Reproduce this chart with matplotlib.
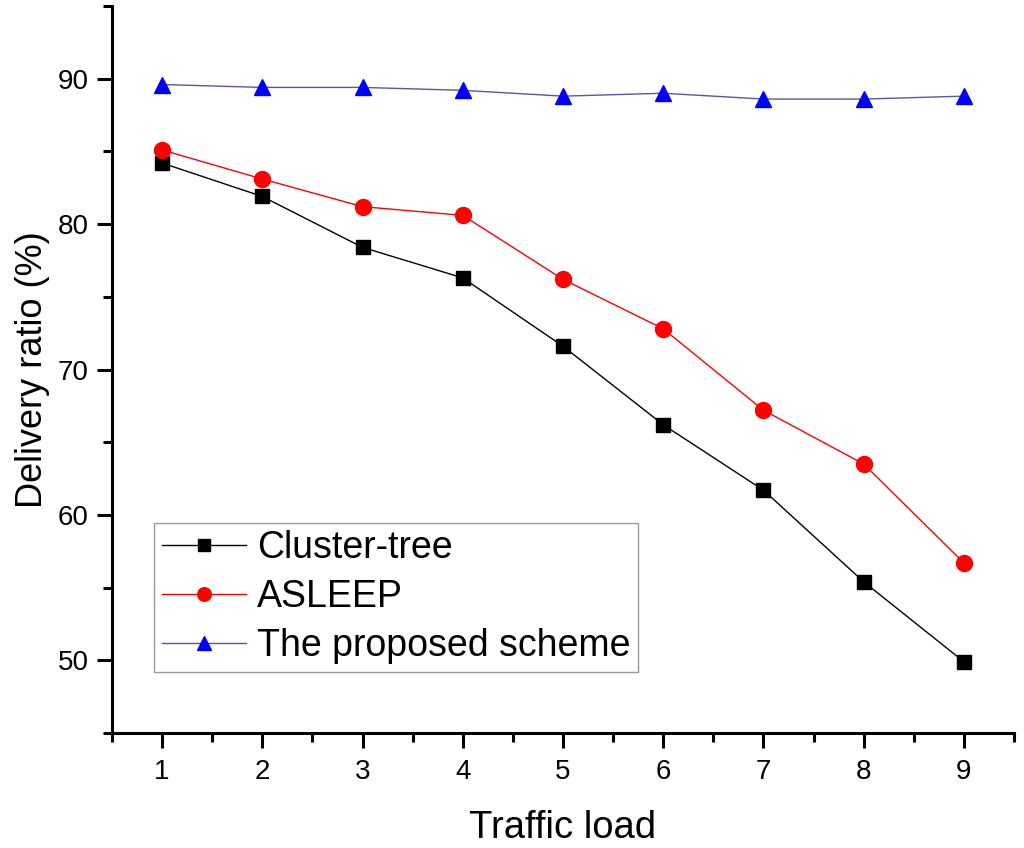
import numpy as np
import matplotlib.pyplot as plt
from matplotlib.ticker import MultipleLocator

plt.rcParams['font.family'] = ['Liberation Sans', 'DejaVu Sans']

# --- Données ---
traffic_load = [1, 2, 3, 4, 5, 6, 7, 8, 9]
cluster_tree = [84.2, 81.9, 78.4, 76.3, 71.6, 66.2, 61.7, 55.4, 49.9]
asleep = [85.1, 83.1, 81.2, 80.6, 76.2, 72.8, 67.2, 63.5, 56.7]
proposed = [89.6, 89.4, 89.4, 89.2, 88.8, 89.0, 88.6, 88.6, 88.8]

fig = plt.figure(figsize=(10.24, 8.48), dpi=100)
ax = fig.add_axes([112 / 1024, 1 - 733 / 848, 902 / 1024, 727 / 848])

ax.plot(traffic_load, cluster_tree, color='black', linewidth=1.0,
        marker='s', markersize=10, markerfacecolor='black', markeredgecolor='black',
        label='Cluster-tree')
ax.plot(traffic_load, asleep, color='red', linewidth=1.0,
        marker='o', markersize=11.5, markerfacecolor='red', markeredgecolor='red',
        label='ASLEEP')
ax.plot(traffic_load, proposed, color='#5656a6', linewidth=1.0,
        marker='^', markersize=12, markerfacecolor='#0000ff', markeredgecolor='#0000ff',
        label='The proposed scheme')

ax.set_xlim(0.5, 9.5)
ax.set_ylim(45, 95)
ax.xaxis.set_major_locator(MultipleLocator(1))
ax.xaxis.set_minor_locator(MultipleLocator(0.5))
ax.yaxis.set_major_locator(MultipleLocator(10))
ax.yaxis.set_minor_locator(MultipleLocator(5))

# style Origin : seulement les axes gauche et bas
ax.spines['top'].set_visible(False)
ax.spines['right'].set_visible(False)
ax.spines['left'].set_linewidth(2.2)
ax.spines['bottom'].set_linewidth(2.2)
ax.tick_params(which='major', direction='out', length=11, width=2.2, labelsize=20)
ax.tick_params(axis='x', which='major', pad=8)
ax.tick_params(axis='y', which='major', pad=6)
ax.tick_params(which='minor', direction='out', length=6.5, width=2.2)

ax.set_xlabel('Traffic load', fontsize=27.5, labelpad=18)
ax.set_ylabel('Delivery ratio (%)', fontsize=26)
ax.yaxis.set_label_coords(-0.069, 0.5)

leg = ax.legend(loc='lower left', bbox_to_anchor=(0.0466, 0.084), borderaxespad=0,
                fontsize=27, frameon=True, fancybox=False, edgecolor='#808080',
                handlelength=2.25, handletextpad=0.3, labelspacing=0.35,
                borderpad=0.2, markerscale=0.85)
leg.get_frame().set_linewidth(1.0)

plt.savefig('out.png', dpi=100)
